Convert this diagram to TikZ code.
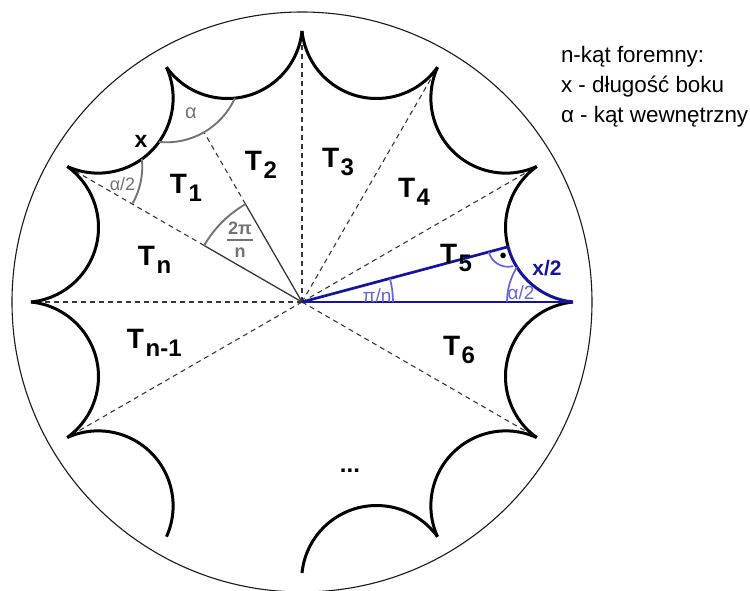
\documentclass[tikz,border=0pt]{standalone}
\usepackage{fontspec}
\setmainfont{Liberation Sans}
\usetikzlibrary{calc}
\definecolor{navyb}{RGB}{20,20,160}
\definecolor{lightb}{RGB}{100,100,225}
\definecolor{markgray}{RGB}{115,115,115}
\definecolor{dashgray}{RGB}{55,55,55}
\newcommand{\Tlab}[1]{{\fontsize{28}{28}\selectfont\bfseries T\kern1.5pt\raisebox{-8pt}{\fontsize{24}{24}\selectfont #1}}}
\begin{document}
\begin{tikzpicture}[x=1pt,y=1pt,
  edge/.style={line width=3pt, black},
  dline/.style={dashgray, line width=1.1pt, dash pattern=on 5pt off 4pt},
  gleg/.style={dashgray, line width=1.3pt},
  garc/.style={markgray, line width=1.9pt},
  bline/.style={navyb, line width=2.7pt},
  barc/.style={lightb, line width=1.7pt},
  lab/.style={inner sep=0pt, outer sep=0pt},
  tlab/.style={inner sep=0pt, outer sep=0pt, anchor=base west},
  legend/.style={inner sep=0pt, outer sep=0pt, anchor=base west, font=\fontsize{22.4}{26}\selectfont},
]
\useasboundingbox (-302,-288) rectangle (448,302);
\coordinate (O) at (0,0);
\foreach \k in {0,...,11} \coordinate (V\k) at (30*\k:271);
\coordinate (M) at (15:213.33);

% outer circle
\draw[black!90, line width=1.1pt] (O) circle[radius=290];

% dashed radii
\foreach \k in {1,2,3,6,7,11} \draw[dline] (O) -- (V\k);
\coordinate (A4) at (120:113);
\coordinate (B4) at (120:196);
\coordinate (A5) at (150:113);
\draw[gleg] (O) -- (A4);
\draw[dline] (A4) -- (B4);
\draw[gleg] (O) -- (A5);
\draw[dline] (A5) -- (V5);

% edges of the polygon
\foreach \k in {1,...,7,9,10,11}
  \draw[edge] (V\k) arc[start angle={30*\k+264.26}, end angle={30*\k+125.74}, radius=75];
\draw[edge] (M) arc[start angle=195, end angle=125.74, radius=75];
\draw[navyb, line width=3pt] (V0) arc[start angle=264.26, end angle=195, radius=75];

% blue triangle
\draw[bline] (O) -- (V0);
\draw[bline] (O) -- (M);

% angle marks
\draw[garc] ([shift={(V4)}]264.26:75) arc[start angle=264.26, end angle=335.74, radius=75];
\draw[garc] ([shift={(V5)}]330:75) arc[start angle=330, end angle=365.74, radius=75];
\draw[garc] (A4) arc[start angle=120, end angle=150, radius=113];
\draw[barc] (0:91) arc[start angle=0, end angle=15, radius=91];
\draw[barc] ([shift={(V0)}]148.16:66) arc[start angle=148.16, end angle=180, radius=66];
\draw[barc] ([shift={(M)}]195:20) arc[start angle=195, end angle=285, radius=20];
\fill[black] ([shift={(M)}]240:10) circle[radius=2.8];

% labels
\node[lab, markgray, font=\fontsize{20}{20}\selectfont] (la) at (-111,189) {α};
\node[lab, font=\fontsize{23}{23}\selectfont\bfseries] (lx) at (-161,161) {x};
\node[lab, markgray, font=\fontsize{18}{18}\selectfont] (la2) at (-179.5,118) {α/2};
\node[lab, markgray, font=\fontsize{18}{18}\selectfont\bfseries] (l2pi) at (-62,74) {2π};
\coordinate (f1) at (-75,62);
\coordinate (f2) at (-49,62);
\draw[markgray, line width=1.8pt] (f1) -- (f2);
\node[lab, markgray, font=\fontsize{18}{18}\selectfont\bfseries] (ln) at (-62,49.5) {n};
\node[lab, navyb, font=\fontsize{21}{21}\selectfont\bfseries] (lx2) at (245,34) {x/2};
\node[lab, lightb, font=\fontsize{19}{19}\selectfont] (lb2) at (219,9) {α/2};
\node[lab, lightb, font=\fontsize{19}{19}\selectfont] (lpin) at (75,6) {π/n};
\node[lab, anchor=base, font=\fontsize{24}{24}\selectfont\bfseries] (dots) at (48,-170) {...};

\node[tlab] (t1) at (-132,109) {\Tlab{1}};
\node[tlab] (t2) at (-57,132) {\Tlab{2}};
\node[tlab] (t3) at (20,135) {\Tlab{3}};
\node[tlab] (t4) at (96,105) {\Tlab{4}};
\node[tlab] (t5) at (138,39) {\Tlab{5}};
\node[tlab] (t6) at (141,-53) {\Tlab{6}};
\node[tlab] (tn) at (-164,37) {\Tlab{n}};
\node[tlab] (tn1) at (-175,-46) {\Tlab{n-1}};

% legend
\node[legend] (g1) at (259,240) {n-kąt foremny:};
\node[legend] (g2) at (259,210) {x - długość boku};
\node[legend] (g3) at (259,180) {α - kąt wewnętrzny};
\end{tikzpicture}
\end{document}
